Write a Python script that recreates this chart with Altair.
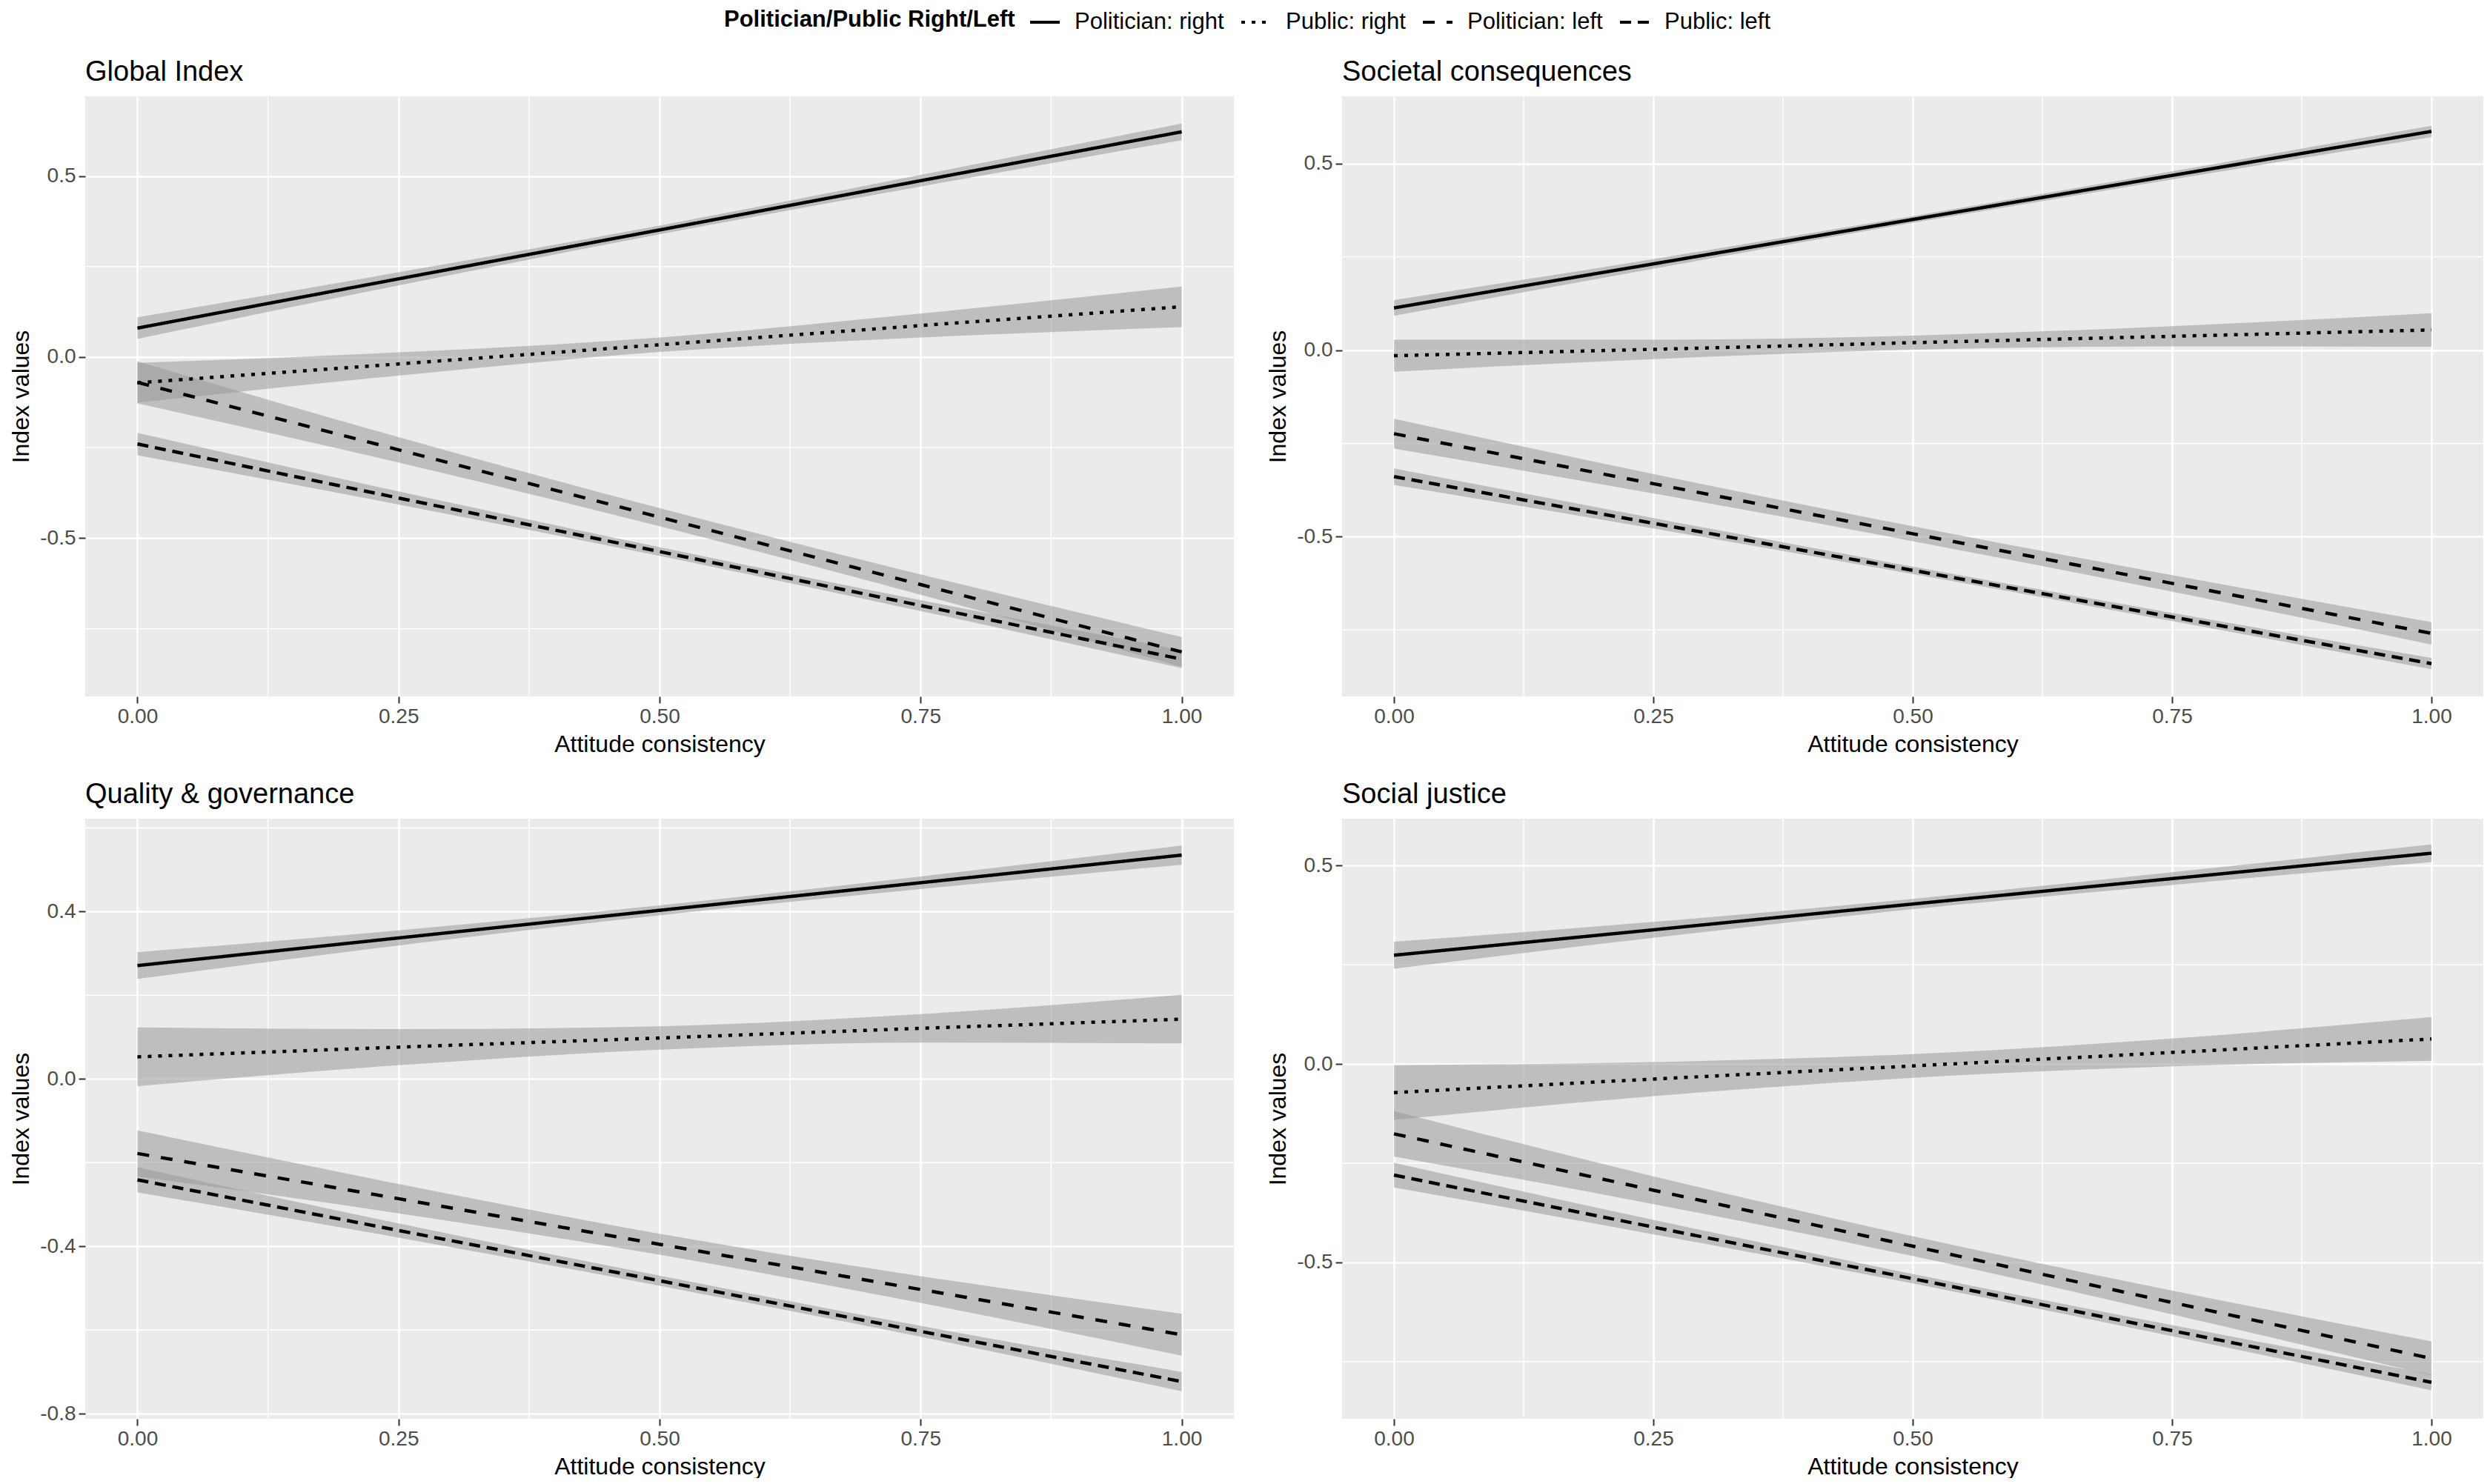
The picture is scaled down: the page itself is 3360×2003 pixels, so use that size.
import altair as alt
import pandas as pd

FONT = "Liberation Sans"

# ---- data ----
x_grid = [0.0, 0.25, 0.5, 0.75, 1.0]
series = ["Politician: right", "Public: right", "Politician: left", "Public: left"]

# Global Index
global_fit = {
    "Politician: right": [0.080, 0.216, 0.351, 0.487, 0.622],
    "Public: right": [-0.071, -0.019, 0.034, 0.087, 0.139],
    "Politician: left": [-0.070, -0.256, -0.442, -0.628, -0.814],
    "Public: left": [-0.240, -0.389, -0.537, -0.686, -0.834],
}
global_hw = {
    "Politician: right": [0.030, 0.018, 0.012, 0.016, 0.023],
    "Public: right": [0.055, 0.032, 0.020, 0.033, 0.056],
    "Politician: left": [0.058, 0.035, 0.025, 0.028, 0.041],
    "Public: left": [0.031, 0.018, 0.012, 0.015, 0.025],
}
# Societal consequences
societal_fit = {
    "Politician: right": [0.113, 0.231, 0.350, 0.468, 0.586],
    "Public: right": [-0.015, 0.002, 0.020, 0.037, 0.054],
    "Politician: left": [-0.224, -0.358, -0.492, -0.625, -0.759],
    "Public: left": [-0.339, -0.464, -0.590, -0.715, -0.840],
}
societal_hw = {
    "Politician: right": [0.021, 0.013, 0.009, 0.011, 0.015],
    "Public: right": [0.043, 0.026, 0.019, 0.027, 0.045],
    "Politician: left": [0.040, 0.026, 0.020, 0.022, 0.030],
    "Public: left": [0.022, 0.014, 0.010, 0.011, 0.015],
}
# Quality & governance
quality_fit = {
    "Politician: right": [0.271, 0.337, 0.403, 0.469, 0.535],
    "Public: right": [0.053, 0.076, 0.098, 0.121, 0.143],
    "Politician: left": [-0.178, -0.286, -0.395, -0.503, -0.611],
    "Public: left": [-0.241, -0.362, -0.482, -0.603, -0.723],
}
quality_hw = {
    "Politician: right": [0.032, 0.018, 0.012, 0.015, 0.023],
    "Public: right": [0.070, 0.043, 0.028, 0.034, 0.058],
    "Politician: left": [0.055, 0.035, 0.025, 0.032, 0.050],
    "Public: left": [0.030, 0.017, 0.012, 0.013, 0.023],
}
# Social justice
social_fit = {
    "Politician: right": [0.274, 0.338, 0.403, 0.467, 0.531],
    "Public: right": [-0.072, -0.038, -0.005, 0.029, 0.063],
    "Politician: left": [-0.176, -0.318, -0.459, -0.601, -0.742],
    "Public: left": [-0.280, -0.411, -0.541, -0.672, -0.802],
}
social_hw = {
    "Politician: right": [0.034, 0.020, 0.013, 0.016, 0.022],
    "Public: right": [0.069, 0.043, 0.030, 0.035, 0.055],
    "Politician: left": [0.057, 0.035, 0.025, 0.030, 0.043],
    "Public: left": [0.031, 0.018, 0.012, 0.014, 0.020],
}

x_ticks = [0.0, 0.25, 0.5, 0.75, 1.0]
x_minor = [0.125, 0.375, 0.625, 0.875]
global_yticks = [-0.5, 0.0, 0.5]
global_yminor = [-0.75, -0.25, 0.25]
societal_yticks = [-0.5, 0.0, 0.5]
societal_yminor = [-0.75, -0.25, 0.25]
quality_yticks = [-0.8, -0.4, 0.0, 0.4]
quality_yminor = [-0.6, -0.2, 0.2, 0.6]
social_yticks = [-0.5, 0.0, 0.5]
social_yminor = [-0.75, -0.25, 0.25]

global_ydom = [-0.937, 0.72]
societal_ydom = [-0.928, 0.68]
quality_ydom = [-0.812, 0.622]
social_ydom = [-0.894, 0.618]

dash_range = [[1, 0], [5, 9], [16, 16], [15, 9]]

LEFT_W, RIGHT_W, H = 1550, 1540, 810


def panel(title, fits, hws, ydom, yticks, yminor, width):
    rows = []
    for s in series:
        for xv, f, h in zip(x_grid, fits[s], hws[s]):
            rows.append({"x": xv, "series": s, "fit": f, "lo": f - h, "hi": f + h})
    df = pd.DataFrame(rows)

    xs = alt.Scale(domain=[-0.05, 1.05], nice=False, zero=False)
    ys = alt.Scale(domain=ydom, nice=False, zero=False)

    xaxis = alt.Axis(values=x_ticks, format=".2f", title="Attitude consistency")
    yaxis = alt.Axis(values=yticks, title="Index values",
                     labelExpr="replace(format(datum.value, '.1f'), '\u2212', '-')")

    xmin_df = pd.DataFrame({"v": x_minor})
    ymin_df = pd.DataFrame({"v": yminor})
    vgrid = alt.Chart(xmin_df).mark_rule(color="white", strokeWidth=1.4).encode(
        x=alt.X("v:Q", scale=xs, axis=xaxis))
    hgrid = alt.Chart(ymin_df).mark_rule(color="white", strokeWidth=1.4).encode(
        y=alt.Y("v:Q", scale=ys, axis=yaxis))

    base = alt.Chart(df)
    band = base.mark_area(color="#999999", opacity=0.55, interpolate="monotone").encode(
        x=alt.X("x:Q", scale=xs, axis=xaxis),
        y=alt.Y("lo:Q", scale=ys, axis=yaxis),
        y2="hi:Q",
        detail="series:N",
    )
    line = base.mark_line(color="black", strokeWidth=4.5, strokeCap="butt").encode(
        x=alt.X("x:Q", scale=xs, axis=xaxis),
        y=alt.Y("fit:Q", scale=ys, axis=yaxis),
        strokeDash=alt.StrokeDash(
            "series:N",
            scale=alt.Scale(domain=series, range=dash_range),
            sort=series,
            legend=alt.Legend(
                title="Politician/Public Right/Left",
                orient="none", legendX=862, legendY=-122,
                direction="horizontal", titleOrient="left",
                symbolType="stroke", symbolStrokeColor="black",
                symbolStrokeWidth=4, symbolSize=1600,
                labelFontSize=31, titleFontSize=31, titleFontWeight="bold",
                labelFont=FONT, titleFont=FONT, labelColor="black", titleColor="black",
                columnPadding=15, labelOffset=18, titlePadding=18,
                labelLimit=400, titleLimit=600,
            ),
        ),
    )
    return alt.layer(vgrid, hgrid, band, line).properties(
        width=width, height=H,
        title=alt.TitleParams(title, anchor="start", frame="group", fontSize=38,
                              font=FONT, fontWeight="normal", color="black", offset=12),
    )


p1 = panel("Global Index", global_fit, global_hw, global_ydom, global_yticks, global_yminor, LEFT_W)
p2 = panel("Societal consequences", societal_fit, societal_hw, societal_ydom, societal_yticks, societal_yminor, RIGHT_W)
p3 = panel("Quality & governance", quality_fit, quality_hw, quality_ydom, quality_yticks, quality_yminor, LEFT_W)
p4 = panel("Social justice", social_fit, social_hw, social_ydom, social_yticks, social_yminor, RIGHT_W)

chart = alt.vconcat(
    alt.hconcat(p1, p2, spacing=42).resolve_scale(x="independent", y="independent"),
    alt.hconcat(p3, p4, spacing=42).resolve_scale(x="independent", y="independent"),
    spacing=34,
).resolve_scale(x="independent", y="independent").configure(
    padding={"top": 0, "left": 4, "right": 0, "bottom": 0}, font=FONT, background="white"
).configure_view(
    fill="#EBEBEB", stroke=None
).configure_axis(
    domain=False, grid=True, gridColor="white", gridWidth=2.7,
    tickColor="#333333", tickWidth=2, tickSize=9,
    labelFont=FONT, labelFontSize=28, labelColor="#4D4D4D", labelPadding=4,
    titleFont=FONT, titleFontSize=32, titleFontWeight="normal", titleColor="black",
    titlePadding=8,
)

chart.save("out.html", embed_options={"renderer": "svg", "actions": False})
